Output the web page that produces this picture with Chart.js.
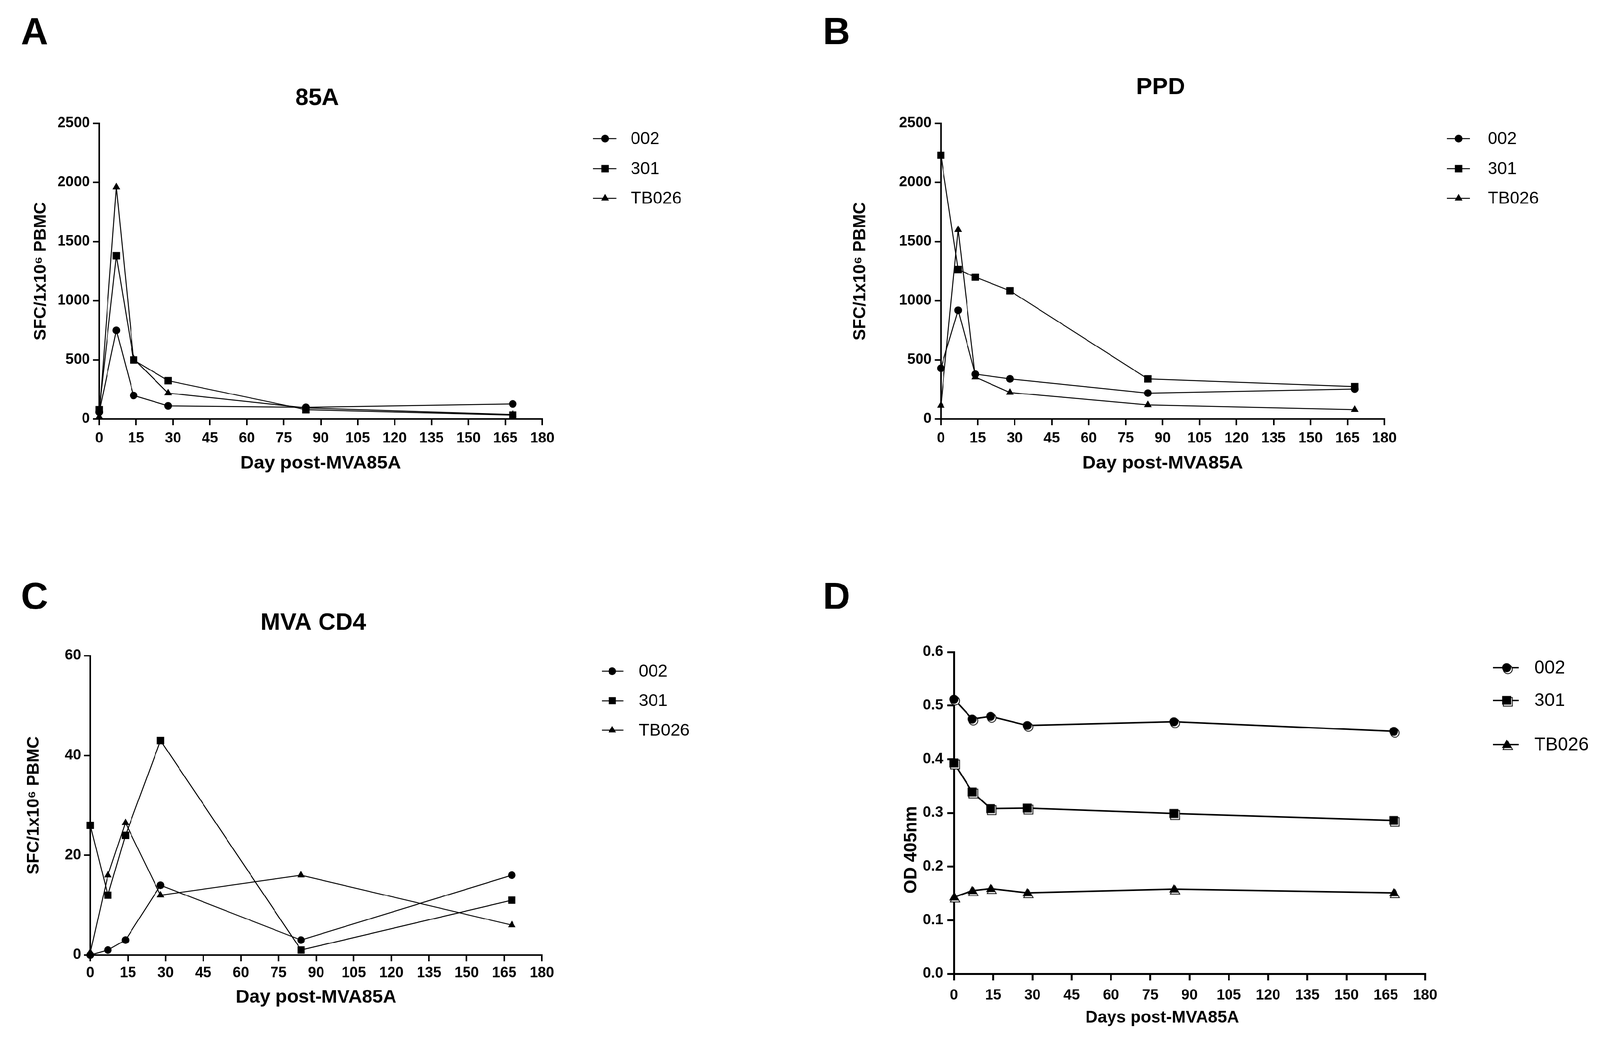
<!DOCTYPE html>
<html>
<head>
<meta charset="utf-8">
<script src="https://cdn.jsdelivr.net/npm/chart.js@4.4.1/dist/chart.umd.min.js"></script>
<style>
  html, body { margin: 0; padding: 0; background: #fff; overflow: hidden; }
  #stage { position: absolute; left: 0; top: 0; width: 4163px; height: 2702px; transform-origin: 0 0; }
  canvas { position: absolute; }
</style>
</head>
<body>
<div id="stage">
<canvas id="cA" width="2080" height="1350" style="left:0px;top:0px"></canvas>
<canvas id="cB" width="2083" height="1350" style="left:2080px;top:0px"></canvas>
<canvas id="cC" width="2080" height="1352" style="left:0px;top:1350px"></canvas>
<canvas id="cD" width="2083" height="1352" style="left:2080px;top:1350px"></canvas>
</div>
<script>
// sampling days and subjects
const days = [0, 7, 14, 28, 84, 168];
const subjects = ['002', '301', 'TB026'];

// A: 85A (SFC/1x10^6 PBMC)
const a85_002 = [60, 750, 200, 112, 100, 128];
const a85_301 = [80, 1380, 500, 325, 80, 35];
const a85_TB026 = [20, 1960, 510, 220, 95, 40];

// B: PPD
const ppd_002 = [430, 920, 380, 340, 220, 255];
const ppd_301 = [2230, 1265, 1200, 1085, 340, 275];
const ppd_TB026 = [115, 1600, 355, 225, 120, 80];

// C: MVA CD4
const cd4_002 = [0, 1, 3, 14, 3, 16];
const cd4_301 = [26, 12, 24, 43, 1, 11];
const cd4_TB026 = [0.5, 16, 26.5, 12, 16, 6];

// D: OD 405nm
const od_002 = [0.512, 0.475, 0.48, 0.463, 0.47, 0.452];
const od_301 = [0.393, 0.339, 0.308, 0.309, 0.299, 0.286];
const od_TB026 = [0.143, 0.155, 0.159, 0.151, 0.158, 0.151];

const SANS = '"Liberation Sans", Arial, sans-serif';

// keep the whole 4163x2702 figure inside the viewport
const fit = Math.min(window.innerWidth / 4163, window.innerHeight / 2702);
if (fit < 0.999) document.getElementById('stage').style.transform = 'scale(' + fit + ')';

Chart.defaults.font.family = SANS;
Chart.defaults.color = '#000';

function series(values) {
  return days.map((d, i) => ({ x: d, y: values[i] }));
}

// filled marker with an open copy slightly behind it (panel D)
function shapePath(c, shape, x, y, r) {
  c.beginPath();
  if (shape === 'circle') {
    c.arc(x, y, r, 0, Math.PI * 2);
  } else if (shape === 'rect') {
    c.rect(x - r, y - r, 2 * r, 2 * r);
  } else {
    c.moveTo(x, y - r * 1.1);
    c.lineTo(x + r * 1.05, y + r * 0.75);
    c.lineTo(x - r * 1.05, y + r * 0.75);
    c.closePath();
  }
}
function doubleMarker(shape) {
  const cv = document.createElement('canvas');
  cv.width = 56; cv.height = 56;
  const c = cv.getContext('2d');
  shapePath(c, shape, 31, 32, 11.5);
  c.fillStyle = '#fff'; c.fill();
  c.lineWidth = 2; c.strokeStyle = '#000'; c.stroke();
  shapePath(c, shape, 28, 28, 11.5);
  c.fillStyle = '#000'; c.fill();
  return cv;
}

const panelDecor = {
  id: 'panelDecor',
  afterDraw(chart, args, o) {
    const c = chart.ctx;
    c.save();
    c.fillStyle = '#000';
    c.textAlign = 'center';
    c.textBaseline = 'middle';
    c.font = 'bold 98px ' + SANS;
    c.fillText(o.letter[0], o.letter[1], o.letter[2]);
    if (o.title) {
      c.font = 'bold 62px ' + SANS;
      c.fillText(o.title[0], o.title[1], o.title[2]);
    }
    // axis titles placed off-centre in the original
    if (o.xTitleAt) {
      c.font = o.xTitleAt[3];
      c.fillText(o.xTitleAt[0], o.xTitleAt[1], o.xTitleAt[2]);
    }
    if (o.yTitleAt) {
      c.save();
      c.translate(o.yTitleAt[1], o.yTitleAt[2]);
      c.rotate(-Math.PI / 2);
      c.font = o.yTitleAt[3];
      c.fillText(o.yTitleAt[0], 0, 0);
      c.restore();
    }
    const lg = o.legend;
    chart.data.datasets.forEach((ds, i) => {
      const y = lg.rows[i];
      c.strokeStyle = '#000';
      c.lineWidth = lg.lineW;
      c.beginPath();
      c.moveTo(lg.x1, y);
      c.lineTo(lg.x2, y);
      c.stroke();
      c.fillStyle = '#000';
      Chart.helpers.drawPoint(c, {
        pointStyle: ds.pointStyle, radius: ds.pointRadius, rotation: 0, borderWidth: 0
      }, lg.mx, y);
      c.textAlign = 'left';
      c.font = lg.size + 'px ' + SANS;
      c.fillText(ds.label, lg.tx, y + 2);
    });
    c.restore();
  }
};

function makePanel(id, p) {
  const datasets = p.sets.map((vals, i) => ({
    label: subjects[i],
    data: series(vals),
    borderColor: '#000',
    backgroundColor: '#000',
    borderWidth: p.lineW,
    pointStyle: p.styles[i],
    pointRadius: p.radii[i],
    pointBorderWidth: 0,
    tension: 0,
    clip: false
  }));
  new Chart(document.getElementById(id), {
    type: 'line',
    data: { datasets },
    options: {
      responsive: false,
      devicePixelRatio: 1,
      animation: false,
      events: [],
      layout: { padding: { left: 0, top: p.area.t, right: p.W - p.area.r, bottom: 0 } },
      plugins: {
        legend: { display: false },
        tooltip: { enabled: false },
        panelDecor: { letter: p.letter, title: p.title, legend: p.legend,
                      xTitleAt: p.xTitleAt, yTitleAt: p.yTitleAt }
      },
      scales: {
        x: {
          type: 'linear', min: 0, max: 180,
          afterFit: (s) => { s.height = p.H - p.area.b; },
          ticks: {
            stepSize: 15, autoSkip: false, maxRotation: 0, color: '#000',
            padding: p.xTickPad,
            font: { family: SANS, size: p.xTickSize, weight: 'bold', lineHeight: 1.2 }
          },
          grid: { display: true, drawOnChartArea: false, drawTicks: true, tickLength: p.tickLen,
                  tickWidth: p.axisW, lineWidth: p.axisW, color: '#000' },
          border: { display: true, color: '#000', width: p.axisW },
          title: {
            display: !p.xTitleAt, text: p.xTitle, color: '#000',
            font: { family: SANS, size: p.xTitleSize, weight: 'bold', lineHeight: 1.2 },
            padding: { top: 0, bottom: p.xTitlePad }
          }
        },
        y: {
          type: 'linear', min: 0, max: p.yMax,
          afterFit: (s) => { s.width = p.area.l; },
          ticks: {
            stepSize: p.yStep, color: '#000', padding: p.yTickPad,
            font: { family: SANS, size: p.yTickSize, weight: 'bold', lineHeight: 1.2 },
            callback: p.yFmt || ((v) => v)
          },
          grid: { display: true, drawOnChartArea: false, drawTicks: true, tickLength: p.tickLen,
                  tickWidth: p.axisW, lineWidth: p.axisW, color: '#000' },
          border: { display: true, color: '#000', width: p.axisW },
          title: {
            display: !p.yTitleAt, text: p.yTitle, color: '#000',
            font: { family: SANS, size: 44, weight: 'bold', lineHeight: 1.2 },
            padding: { top: p.yTitlePad, bottom: 0 }
          }
        }
      }
    },
    plugins: [panelDecor]
  });
}

const sfcTitle = 'SFC/1x10\u2076 PBMC';
const plainStyles = ['circle', 'rect', 'triangle'];
const plainRadii = [10, 13.5, 11.5];

makePanel('cA', {
  W: 2080, H: 1350, area: { l: 258, r: 1411, t: 321, b: 1091 },
  sets: [a85_002, a85_301, a85_TB026], styles: plainStyles, radii: plainRadii, lineW: 2.5,
  yMax: 2500, yStep: 500, yTitle: sfcTitle, yTitlePad: 80, yTickPad: 8, yTickSize: 38,
  xTitle: 'Day post-MVA85A', xTitleSize: 49, xTitlePad: 114, xTickPad: 12, xTickSize: 38,
  tickLen: 16, axisW: 4,
  letter: ['A', 90, 88], title: ['85A', 825, 256],
  legend: { x1: 1543, x2: 1604, mx: 1574, tx: 1641, rows: [361, 439, 516], size: 45, lineW: 2.5 }
});

makePanel('cB', {
  W: 2083, H: 1350, area: { l: 368, r: 1522, t: 321, b: 1091 },
  sets: [ppd_002, ppd_301, ppd_TB026], styles: plainStyles, radii: plainRadii, lineW: 2.5,
  yMax: 2500, yStep: 500, yTitle: sfcTitle, yTitlePad: 132, yTickPad: 8, yTickSize: 38,
  xTitle: 'Day post-MVA85A', xTitleSize: 49, xTitlePad: 114, xTickPad: 12, xTickSize: 38,
  tickLen: 16, axisW: 4,
  letter: ['B', 97, 88], title: ['PPD', 940, 228],
  legend: { x1: 1685, x2: 1745, mx: 1715, tx: 1791, rows: [361, 439, 516], size: 45, lineW: 2.5 }
});

makePanel('cC', {
  W: 2080, H: 1352, area: { l: 235, r: 1410, t: 357, b: 1136 },
  sets: [cd4_002, cd4_301, cd4_TB026], styles: plainStyles, radii: plainRadii, lineW: 2.5,
  yMax: 60, yStep: 20, yTitle: sfcTitle, yTitlePad: 62, yTickPad: 8, yTickSize: 38,
  xTitle: 'Day post-MVA85A', xTitleSize: 49, xTitlePad: 76, xTickPad: 9, xTickSize: 38,
  tickLen: 16, axisW: 4,
  letter: ['C', 90, 208], title: ['MVA CD4', 815, 272],
  legend: { x1: 1566, x2: 1622, mx: 1593, tx: 1662, rows: [397, 474, 551], size: 45, lineW: 2.5 }
});

makePanel('cD', {
  W: 2083, H: 1352, area: { l: 402, r: 1628, t: 347, b: 1185 },
  sets: [od_002, od_301, od_TB026],
  styles: [doubleMarker('circle'), doubleMarker('rect'), doubleMarker('triangle')],
  radii: [12, 12, 12], lineW: 4,
  yMax: 0.6, yStep: 0.1, yFmt: (v) => Number(v).toFixed(1),
  yTitle: 'OD 405nm', yTickPad: 11, yTickSize: 38,
  yTitleAt: ['OD 405nm', 291, 862, 'bold 46px ' + SANS],
  xTitle: 'Days post-MVA85A', xTitleAt: ['Days post-MVA85A', 944, 1300, 'bold 44px ' + SANS],
  xTickPad: 17, xTickSize: 38,
  tickLen: 17, axisW: 5,
  letter: ['D', 97, 208], title: null,
  legend: { x1: 1805, x2: 1872, mx: 1840, tx: 1912, rows: [388, 473, 588], size: 48, lineW: 3.5 }
});
</script>
</body>
</html>
